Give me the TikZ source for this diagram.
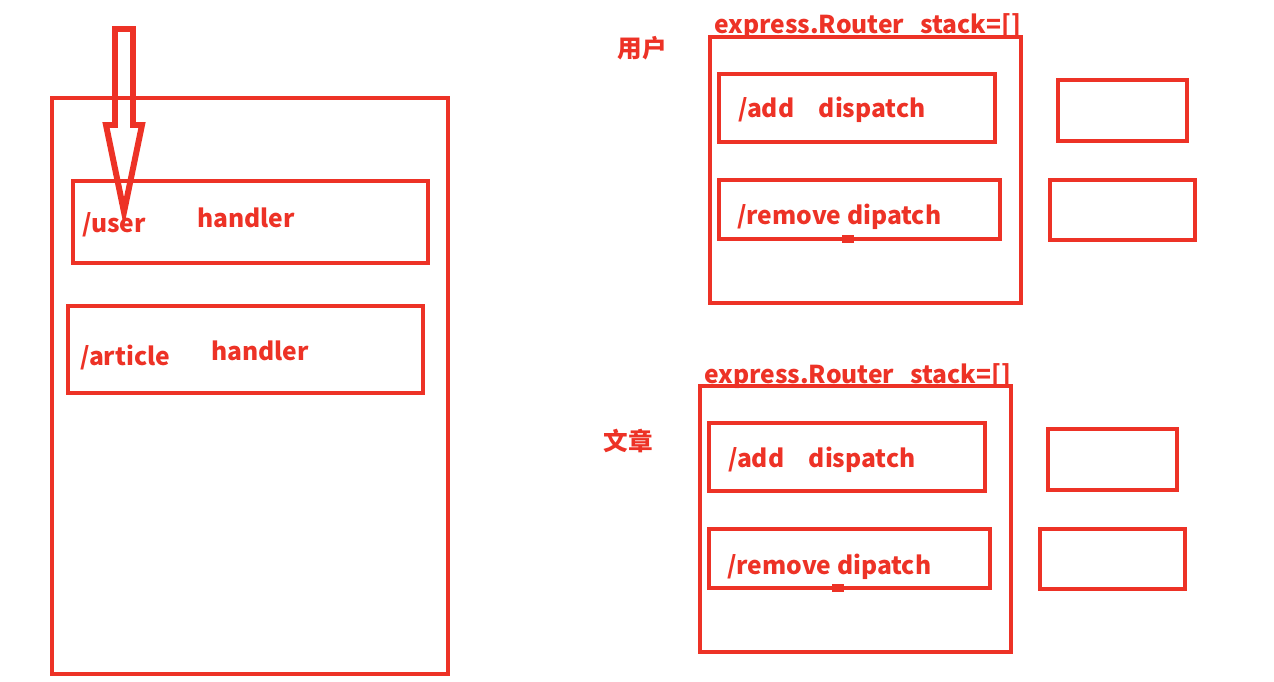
\documentclass[tikz,border=0pt]{standalone}
\usepackage{fontspec}
\setmainfont{Noto Sans CJK SC}
\definecolor{pen}{RGB}{237,50,38}

\begin{document}
\begin{tikzpicture}[x=0.02cm,y=-0.02cm,
    box/.style={draw=pen,line width=2.8pt},
    txt/.style={text=pen,font=\fontsize{14}{17}\selectfont\bfseries,anchor=base west,inner sep=0pt},
    cjktxt/.style={text=pen,font=\fontsize{14}{16}\selectfont\bfseries,inner sep=0pt}]
    \useasboundingbox (0,0) rectangle (1274,682);

    % app with its two routes
    \draw[box] (52,98) rectangle (448,674);
    \draw[box] (73,181) rectangle (428,263);
    \node[txt] (user) at (82,233) {/user};
    \node[txt] (userh) at (197,228) {handler};
    \draw[box] (68,306) rectangle (423,393);
    \node[txt] (article) at (80,365) {/article};
    \node[txt] (articleh) at (211,360) {handler};
    \draw[box,line width=3.4pt,line join=miter] (115,29) -- (133,29) -- (133,125) -- (142,125) -- (124,212) -- (106,125) -- (115,125) -- cycle;

    % the two routers
    \node[cjktxt] (yonghu) at (642,48) {用户};
    \node[cjktxt] (wenzhang) at (628,441) {文章};
    \foreach \nm/\dx/\dy in {user/0/0, art/-10/349} {
    \begin{scope}[shift={(\dx,\dy)}]
        \node[txt] (\nm-router) at (714,34) {express.Router};
        \node[txt] (\nm-stack) at (920,34) {stack=[]};
        \draw[box] (710,37) rectangle (1021,303);
        \draw[box] (719,74) rectangle (995,142);
        \node[txt] (\nm-add) at (738,118) {/add\quad dispatch};
        \draw[box] (719,180) rectangle (1000,239);
        \node[txt] (\nm-remove) at (737,225) {/remove dipatch};
        \fill[pen] (842,235) rectangle (854,243);
        \draw[box] (1058,80) rectangle (1187,141);
        \draw[box] (1050,180) rectangle (1195,240);
    \end{scope}
    }
\end{tikzpicture}
\end{document}
